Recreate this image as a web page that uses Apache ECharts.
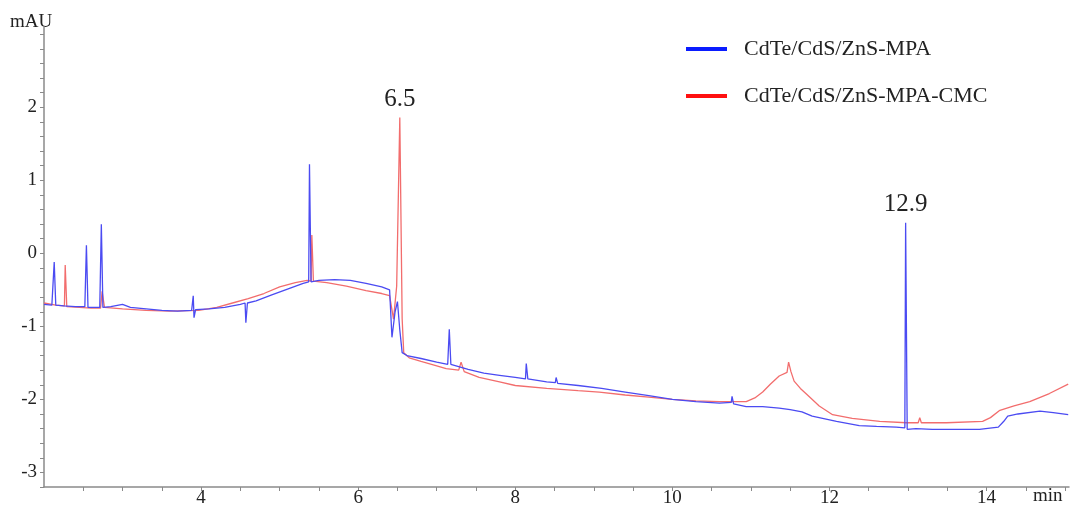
<!DOCTYPE html>
<html>
<head>
<meta charset="utf-8">
<script src="https://cdn.jsdelivr.net/npm/echarts@6/dist/echarts.min.js"></script>
<style>
  html, body { margin: 0; padding: 0; background: #fff; }
  #chart { width: 1070px; height: 514px; }
</style>
</head>
<body>
<div id="chart"></div>
<script>
// series names
const seriesNames = ['CdTe/CdS/ZnS-MPA', 'CdTe/CdS/ZnS-MPA-CMC']

// [time (min), absorbance (mAU)]
const mpaData = [
  [2.00, -0.70], [2.10, -0.71], [2.12, -0.70], [2.13, -0.12], [2.15, -0.71], [2.25, -0.72],
  [2.40, -0.73], [2.52, -0.73], [2.54, 0.11], [2.56, -0.74], [2.65, -0.74], [2.71, -0.74],
  [2.73, 0.40], [2.75, -0.74], [2.85, -0.73], [3.00, -0.70], [3.10, -0.74], [3.30, -0.76],
  [3.50, -0.78], [3.70, -0.79], [3.88, -0.78], [3.90, -0.58], [3.91, -0.88], [3.93, -0.77],
  [4.10, -0.76], [4.30, -0.74], [4.50, -0.70], [4.56, -0.68], [4.57, -0.95], [4.59, -0.68],
  [4.70, -0.65], [4.90, -0.57], [5.10, -0.49], [5.30, -0.41], [5.37, -0.39], [5.38, 1.22],
  [5.40, -0.39], [5.50, -0.37], [5.70, -0.36], [5.90, -0.37], [6.10, -0.41], [6.30, -0.46],
  [6.40, -0.50], [6.43, -1.15], [6.47, -0.80], [6.50, -0.66], [6.53, -1.05], [6.56, -1.36],
  [6.62, -1.40], [6.80, -1.44], [7.00, -1.49], [7.14, -1.52], [7.16, -1.04], [7.18, -1.52],
  [7.40, -1.59], [7.60, -1.64], [7.80, -1.67], [8.00, -1.70], [8.13, -1.72], [8.14, -1.51],
  [8.16, -1.72], [8.40, -1.76], [8.51, -1.77], [8.52, -1.70], [8.54, -1.78], [8.80, -1.81],
  [9.10, -1.85], [9.40, -1.90], [9.70, -1.95], [10.00, -2.00], [10.30, -2.03], [10.60, -2.05],
  [10.75, -2.04], [10.76, -1.96], [10.78, -2.06], [10.94, -2.10], [11.15, -2.10], [11.36, -2.12],
  [11.50, -2.14], [11.65, -2.17], [11.78, -2.23], [12.09, -2.30], [12.38, -2.36], [12.60, -2.37],
  [12.85, -2.38], [12.96, -2.39], [12.97, 0.42], [12.99, -2.41], [13.10, -2.40], [13.31, -2.41],
  [13.60, -2.41], [13.91, -2.41], [14.15, -2.38], [14.22, -2.30], [14.27, -2.23], [14.40, -2.20],
  [14.68, -2.16], [14.85, -2.18], [15.04, -2.21]
]

const cmcData = [
  [2.00, -0.68], [2.15, -0.71], [2.26, -0.72], [2.27, -0.16], [2.29, -0.73], [2.45, -0.74],
  [2.60, -0.75], [2.72, -0.75], [2.74, -0.52], [2.77, -0.74], [3.00, -0.76], [3.30, -0.78],
  [3.60, -0.79], [3.97, -0.78], [4.20, -0.74], [4.40, -0.68], [4.60, -0.62], [4.80, -0.55],
  [5.00, -0.46], [5.20, -0.40], [5.35, -0.37], [5.40, -0.38], [5.41, 0.25], [5.43, -0.38],
  [5.60, -0.40], [5.85, -0.45], [6.10, -0.51], [6.30, -0.55], [6.40, -0.58], [6.45, -0.90],
  [6.49, -0.45], [6.53, 1.86], [6.56, -0.90], [6.58, -1.36], [6.65, -1.43], [6.80, -1.48],
  [7.00, -1.54], [7.12, -1.58], [7.28, -1.60], [7.31, -1.49], [7.35, -1.62], [7.54, -1.70],
  [7.80, -1.76], [8.00, -1.81], [8.40, -1.85], [8.80, -1.88], [9.07, -1.90], [9.40, -1.94],
  [9.70, -1.97], [10.00, -2.00], [10.30, -2.02], [10.60, -2.03], [10.94, -2.03], [11.05, -1.98],
  [11.15, -1.90], [11.25, -1.79], [11.36, -1.68], [11.46, -1.63], [11.48, -1.49], [11.51, -1.62],
  [11.55, -1.75], [11.63, -1.85], [11.71, -1.93], [11.87, -2.09], [12.04, -2.21], [12.29, -2.26],
  [12.64, -2.30], [12.98, -2.32], [13.13, -2.32], [13.15, -2.25], [13.17, -2.32], [13.49, -2.32],
  [13.95, -2.30], [14.05, -2.25], [14.17, -2.15], [14.35, -2.09], [14.55, -2.03], [14.80, -1.92],
  [15.04, -1.79]
]

// peak annotations: [time, top, label]
const peakMarks = [[6.53, 1.86, '6.5'], [12.97, 0.42, '12.9']]

// tick labels / tick positions
const xTickLabels = [4, 6, 8, 10, 12, 14]
const xTicks = [2.5, 3, 3.5, 4, 4.5, 5, 5.5, 6, 6.5, 7, 7.5, 8, 8.5, 9, 9.5, 10, 10.5, 11, 11.5, 12, 12.5, 13, 13.5, 14, 14.5, 15]
const yTickLabels = [-3, -2, -1, 0, 1, 2]
const yTicks = [-3.2, -3, -2.8, -2.6, -2.4, -2.2, -2, -1.8, -1.6, -1.4, -1.2, -1, -0.8, -0.6, -0.4, -0.2, 0,
  0.2, 0.4, 0.6, 0.8, 1, 1.2, 1.4, 1.6, 1.8, 2, 2.2, 2.4, 2.6, 2.8, 3]

const serif = 'Liberation Serif'
const textColor = '#222'
const axisColor = '#8a8a8a'

const chart = echarts.init(document.getElementById('chart'))

const peakLabel = {
  show: true, position: 'top', distance: 5, formatter: '{b}',
  fontFamily: serif, fontSize: 25, color: textColor
}

const option = {
  animation: false,
  backgroundColor: '#fff',
  grid: { left: 44, right: 1, top: 27, bottom: 27 },
  legend: {
    orient: 'vertical',
    left: 681,
    top: 33,
    itemWidth: 41,
    itemHeight: 4,
    itemGap: 25,
    icon: 'rect',
    textStyle: { fontFamily: serif, fontSize: 22, color: textColor, padding: [0, 0, 0, 12] },
    data: [
      { name: seriesNames[0], itemStyle: { color: '#0a1cff' } },
      { name: seriesNames[1], itemStyle: { color: '#ff1010' } }
    ]
  },
  xAxis: {
    type: 'value',
    min: 2,
    max: 15.05,
    splitLine: { show: false },
    axisLine: { onZero: false, lineStyle: { color: axisColor, width: 1.5 } },
    axisTick: { customValues: xTicks, length: 4, lineStyle: { color: axisColor } },
    axisLabel: {
      customValues: xTickLabels,
      fontFamily: serif, fontSize: 19, color: textColor, margin: 2
    }
  },
  yAxis: {
    type: 'value',
    min: -3.2,
    max: 3.1,
    splitLine: { show: false },
    axisLine: { show: true, onZero: false, lineStyle: { color: axisColor, width: 1.5 } },
    axisTick: { show: true, customValues: yTicks, length: 4, lineStyle: { color: axisColor } },
    axisLabel: {
      customValues: yTickLabels,
      fontFamily: serif, fontSize: 19, color: textColor, margin: 7
    }
  },
  graphic: [
    { type: 'text', left: 10, top: 13, style: { text: 'mAU', font: '19px "Liberation Serif"', fill: textColor } },
    { type: 'text', left: 1033, top: 487, style: { text: 'min', font: '19px "Liberation Serif"', fill: textColor } }
  ],
  series: [
    {
      name: seriesNames[0],
      type: 'line',
      data: mpaData,
      showSymbol: false,
      z: 3,
      lineStyle: { color: '#4b4bf2', width: 1.3 },
      itemStyle: { color: '#4b4bf2' },
      markPoint: {
        symbol: 'circle',
        symbolSize: 1,
        itemStyle: { color: 'rgba(0,0,0,0)' },
        label: peakLabel,
        data: [{ name: peakMarks[1][2], coord: [peakMarks[1][0], peakMarks[1][1]] }]
      }
    },
    {
      name: seriesNames[1],
      type: 'line',
      data: cmcData,
      showSymbol: false,
      z: 2,
      lineStyle: { color: '#f26d6d', width: 1.3 },
      itemStyle: { color: '#f26d6d' },
      markPoint: {
        symbol: 'circle',
        symbolSize: 1,
        itemStyle: { color: 'rgba(0,0,0,0)' },
        label: peakLabel,
        data: [{ name: peakMarks[0][2], coord: [peakMarks[0][0], peakMarks[0][1]] }]
      }
    }
  ]
}

chart.setOption(option)
window.addEventListener('resize', () => chart.resize())
</script>
</body>
</html>
